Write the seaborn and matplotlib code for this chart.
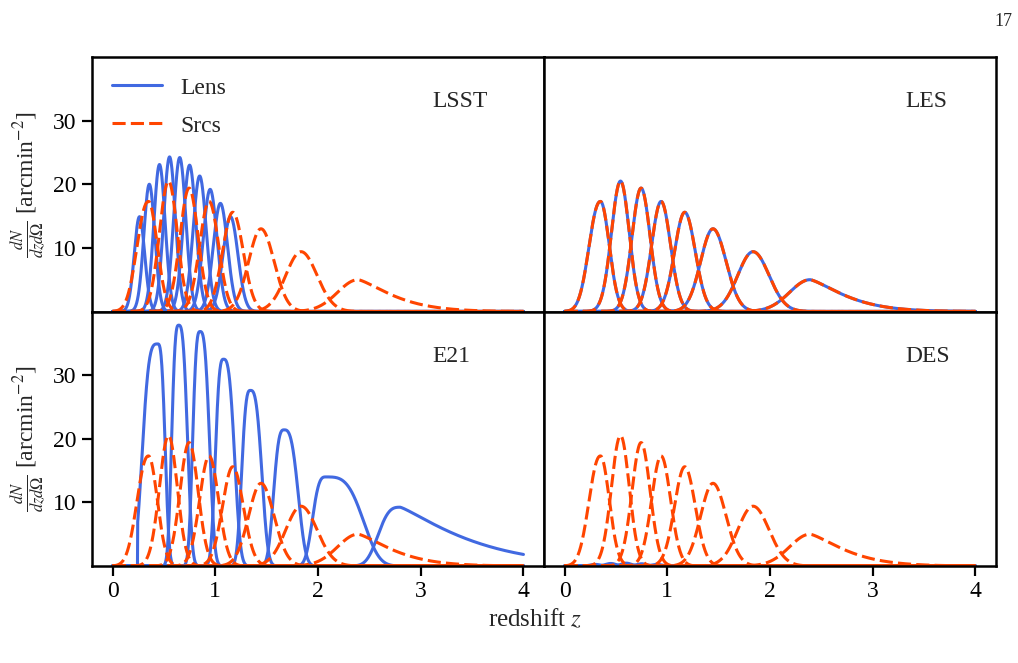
import numpy as np
import pandas as pd
import matplotlib
matplotlib.use("Agg")
import matplotlib.pyplot as plt
import seaborn as sns
from matplotlib.lines import Line2D

# ---------------- data ----------------
z_range = [0.0, 4.0]
x_ticks = [0, 1, 2, 3, 4]
y_ticks = [10, 20, 30]
panel_names = ["LSST", "LES", "E21", "DES"]
legend_labels = ["Lens", "Srcs"]

# source bins (identical in all four panels)
src_peak = [0.35, 0.545, 0.745, 0.94, 1.17, 1.445, 1.835, 2.39]
src_height = [17.3, 20.5, 19.4, 17.3, 15.6, 13.0, 9.4, 5.0]
src_wl = [0.15, 0.125, 0.125, 0.13, 0.14, 0.17, 0.21, 0.28]
src_wr = [0.12, 0.12, 0.125, 0.13, 0.145, 0.18, 0.22, 0.45]
src_pl = [2.2, 2, 2, 2, 2, 2, 2, 2]
src_pr = [2, 2, 2, 2, 2, 2, 2, 1.35]

# LSST lens bins
lsst_peak = [0.262, 0.358, 0.457, 0.555, 0.654, 0.75, 0.848, 0.95, 1.05, 1.148]
lsst_height = [14.9, 20.0, 23.1, 24.3, 24.2, 23.0, 21.3, 19.2, 17.0, 14.9]
lsst_w = [0.072, 0.075, 0.078, 0.081, 0.084, 0.087, 0.09, 0.094, 0.098, 0.102]

# LES lens bins are the same as the source bins
les_peak, les_height = src_peak, src_height
les_wl, les_wr, les_pl, les_pr = src_wl, src_wr, src_pl, src_pr

# E21 lens bins
e21_peak = [0.44, 0.644, 0.852, 1.08, 1.342, 1.67, 2.075, 2.8]
e21_height = [34.9, 37.85, 36.85, 32.5, 27.6, 21.4, 14.0, 9.24]
e21_wl = [0.17, 0.08, 0.085, 0.093, 0.1, 0.12, 0.15, 0.25]
e21_wr = [0.085, 0.1, 0.108, 0.126, 0.13, 0.16, 0.41, 0.8]
e21_pl = [3.5, 3, 3, 3, 3, 3, 3, 3]
e21_pr = [3, 3, 3, 3, 3, 3, 3.5, 1.2]
e21_zcut = [0.245, 0, 0, 0, 0, 0, 0, 0]

# DES lens bins (very low density)
des_peak = [0.3, 0.45, 0.6, 0.75, 0.9]
des_height = [0.25, 0.4, 0.45, 0.35, 0.25]
des_w = [0.07, 0.07, 0.07, 0.07, 0.07]

blue = "#4169E1"
orange = "#FF4500"


def bin_curve(z, peak, h, wl, wr, pl=2, pr=2, zcut=0.0):
    dz = z - peak
    w = np.where(dz < 0, wl, wr)
    p = np.where(dz < 0, pl, pr)
    y = h * np.exp(-(np.abs(dz) / w) ** p)
    y[z < zcut] = 0.0
    return y


z = np.linspace(z_range[0], z_range[1], 1601)


def frame(kind, peaks, heights, wl, wr, pl=None, pr=None, zcut=None):
    n = len(peaks)
    pl = pl or [2] * n
    pr = pr or [2] * n
    zcut = zcut or [0] * n
    rows = []
    for i in range(n):
        y = bin_curve(z, peaks[i], heights[i], wl[i], wr[i], pl[i], pr[i], zcut[i])
        rows.append(pd.DataFrame({"z": z, "n": y, "bin": f"{kind}{i}", "kind": kind}))
    return pd.concat(rows, ignore_index=True)


src_df = frame("Srcs", src_peak, src_height, src_wl, src_wr, src_pl, src_pr)
lens_dfs = {
    "LSST": frame("Lens", lsst_peak, lsst_height, lsst_w, lsst_w),
    "LES": frame("Lens", les_peak, les_height, les_wl, les_wr, les_pl, les_pr),
    "E21": frame("Lens", e21_peak, e21_height, e21_wl, e21_wr, e21_pl, e21_pr, e21_zcut),
    "DES": frame("Lens", des_peak, des_height, des_w, des_w),
}

# ---------------- style ----------------
sns.set_style("ticks")
plt.rcParams["font.family"] = ["Liberation Serif", "DejaVu Serif"]
plt.rcParams["mathtext.fontset"] = "stix"
plt.rcParams["axes.linewidth"] = 1.8

fig, axes = plt.subplots(2, 2, figsize=(10.18, 6.63), dpi=100, sharex=True, sharey=True)
fig.subplots_adjust(left=92 / 1018, right=996 / 1018, top=1 - 57 / 663,
                    bottom=1 - 566 / 663, wspace=0, hspace=0)

palette = {"Lens": blue, "Srcs": orange}
dashes = {"Lens": "", "Srcs": (4.3, 1.7)}
LW = 2.2
FS = 17

for ax, name in zip(axes.flat, panel_names):
    df = pd.concat([lens_dfs[name], src_df], ignore_index=True)
    sns.lineplot(data=df, x="z", y="n", hue="kind", style="kind", units="bin",
                 estimator=None, sort=False, palette=palette, dashes=dashes,
                 hue_order=["Lens", "Srcs"], style_order=["Lens", "Srcs"],
                 linewidth=LW, legend=False, ax=ax)
    ax.set_xlim(-0.2, 4.2)
    ax.set_ylim(0, 40)
    ax.set_xticks(x_ticks)
    ax.set_yticks(y_ticks)
    ax.set_xlabel("")
    ax.set_ylabel("")
    for s in ax.spines.values():
        s.set_visible(True)
        s.set_linewidth(1.8)
        s.set_color("black")
    ax.tick_params(direction="out", length=7, width=1.6, labelsize=FS, pad=4,
                   color="black", labelcolor="black")
    ax.text(0.752 if name in ("LSST", "E21") else 0.80, 0.825, name,
            transform=ax.transAxes, fontsize=FS, ha="left", va="center")

for ax in axes[0, :]:
    ax.tick_params(bottom=False, labelbottom=False)
for ax in axes[:, 1]:
    ax.tick_params(left=False, labelleft=False)
for ax in axes[:, 0]:
    ax.set_ylabel(r"$\frac{dN}{dzd\Omega}$ [arcmin$^{-2}$]", fontsize=FS, labelpad=4)

handles = [Line2D([], [], color=blue, lw=LW),
           Line2D([], [], color=orange, lw=LW, dashes=(4.3, 1.7))]
axes[0, 0].legend(handles, legend_labels, loc="upper left", frameon=False,
                  fontsize=FS, handlelength=2.1, labelspacing=0.7,
                  borderaxespad=0.45, handletextpad=0.8)

fig.text(535 / 1018, 1 - 620 / 663, r"redshift $z$", fontsize=18, ha="center", va="center")
fig.text(1012 / 1018, 1 - 21 / 663, "17", fontsize=13, ha="right", va="center")

fig.savefig("out.png", dpi=100)
